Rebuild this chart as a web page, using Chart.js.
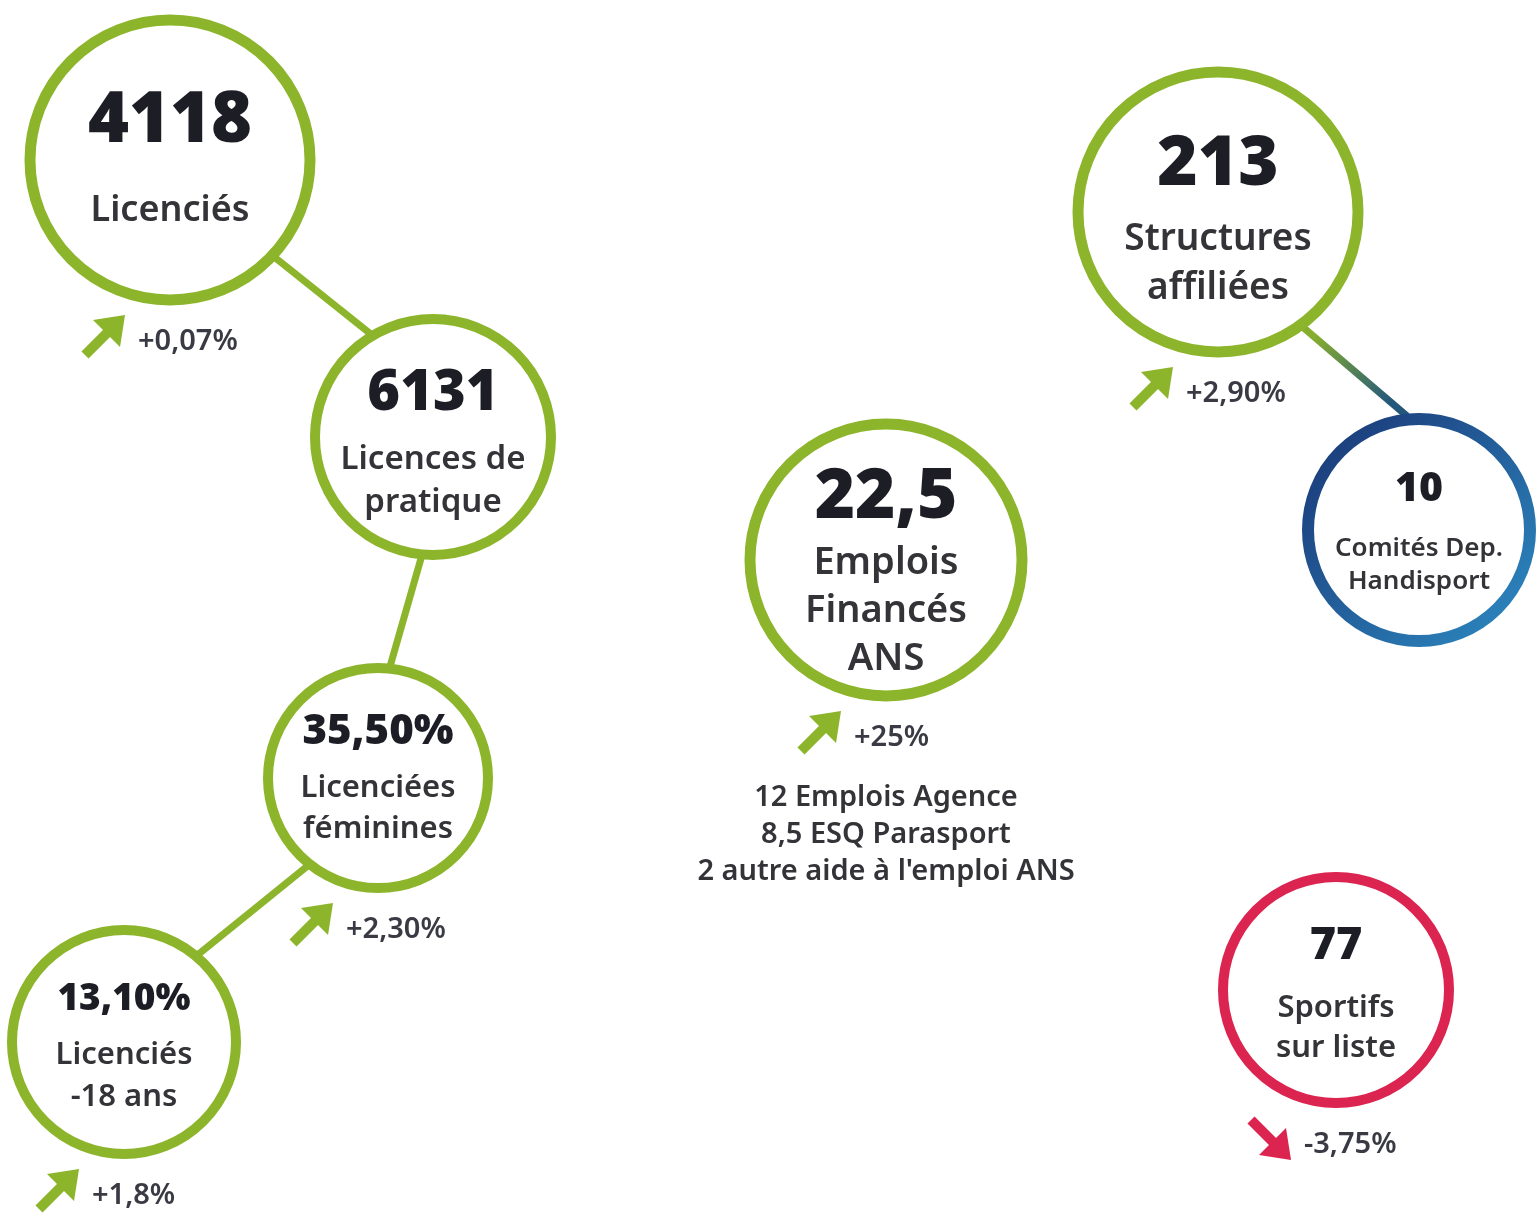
<!DOCTYPE html>
<html>
<head>
<meta charset="utf-8">
<script src="https://cdn.jsdelivr.net/npm/chart.js@4.4.1/dist/chart.umd.min.js"></script>
<style>
  html, body { margin: 0; padding: 0; background: #fff; }
  canvas { display: block; }
</style>
</head>
<body>
<canvas id="infoChart" width="1537" height="1217"></canvas>
<script>
// Key figures shown in the circles
const figures = ['4118', '6131', '35,50%', '13,10%', '22,5', '213', '10', '77'];
const captions = [
  ['Licenciés'],
  ['Licences de', 'pratique'],
  ['Licenciées', 'féminines'],
  ['Licenciés', '-18 ans'],
  ['Emplois', 'Financés', 'ANS'],
  ['Structures', 'affiliées'],
  ['Comités Dep.', 'Handisport'],
  ['Sportifs', 'sur liste']
];
const trends = ['+0,07%', '', '+2,30%', '+1,8%', '+25%', '+2,90%', '', '-3,75%'];
const jobsDetail = ['12 Emplois Agence', '8,5 ESQ Parasport', "2 autre aide à l'emploi ANS"];

// Circle centres on a 0..1537 x 0..1217 grid, and radius
const centerX = [170, 433, 378, 124, 886, 1218, 1419, 1336];
const centerY = [160, 437, 778, 1042, 560, 212, 530, 990];
const radius = [140, 118, 110, 112, 136, 140, 111, 113];

// Connectors between circles: [from circle, to circle] and end points
const links = [[0, 1], [1, 2], [2, 3], [5, 6]];
const linkX = [[268, 377], [424, 389], [310, 195], [1298, 1407]];
const linkY = [[252, 339], [548, 670], [864, 957], [323, 416]];

// Styles
const GREEN = '#8cb52b';
const RED = '#dc2450';
const ringColor = [GREEN, GREEN, GREEN, GREEN, GREEN, GREEN, 'blue', RED];
const figureSize = [70, 56, 42, 37, 69, 69, 41, 45];
const figureDy = [-38, -43, -46, -43, -62, -47, -41, -44];
const captionSize = [36, 33, 31, 31, 38, 37, 26, 31];
const captionDy = [51, 23, 10, 13, 3, 27, 19, 18];
const captionGap = [44, 43, 41, 42, 48, 49, 33, 40];
const FONT = "'Noto Sans', sans-serif";

function plainColor(i) {
  return ringColor[i] === 'blue' ? '#2a6aa8' : ringColor[i];
}

function ringStroke(context) {
  const i = context.dataIndex;
  if (ringColor[i] !== 'blue') return ringColor[i];
  const chart = context.chart;
  if (!chart.chartArea) return '#2a6aa8';
  const x = chart.scales.x.getPixelForValue(centerX[i]);
  const y = chart.scales.y.getPixelForValue(centerY[i]);
  const r = radius[i];
  const g = chart.ctx.createLinearGradient(x - r, y - r, x + r, y + r);
  g.addColorStop(0, '#1a3675');
  g.addColorStop(1, '#2d8ac2');
  return g;
}

// Link lines, one dataset per link
const linkSets = links.map(([a, b], k) => ({
  type: 'line',
  data: [{ x: linkX[k][0], y: linkY[k][0] }, { x: linkX[k][1], y: linkY[k][1] }],
  borderWidth: 7,
  pointRadius: 0,
  order: 2,
  clip: false,
  borderColor: plainColor(a),
  segment: {
    borderColor: ctx => {
      if (ringColor[b] !== 'blue') return plainColor(a);
      const g = ctx.chart.ctx.createLinearGradient(ctx.p0.x, ctx.p0.y, ctx.p1.x, ctx.p1.y);
      g.addColorStop(0.15, '#86ad2e');
      g.addColorStop(0.85, '#24587a');
      return g;
    }
  }
}));

function drawArrow(c, x, y, color, down) {
  c.save();
  c.translate(x, y);
  if (down) c.scale(1, -1);
  c.fillStyle = color;
  c.strokeStyle = color;
  c.lineWidth = 10;
  c.lineCap = 'butt';
  c.beginPath();
  c.moveTo(-19, 19);
  c.lineTo(4, -4);
  c.stroke();
  c.beginPath();
  c.moveTo(21, -21);
  c.lineTo(16, 11);
  c.lineTo(-11, -16);
  c.closePath();
  c.fill();
  c.restore();
}

const labelPlugin = {
  id: 'labels',
  afterDatasetsDraw(chart) {
    const c = chart.ctx;
    const sx = chart.scales.x, sy = chart.scales.y;
    c.save();
    c.textAlign = 'center';
    c.textBaseline = 'middle';
    figures.forEach((fig, i) => {
      const x = sx.getPixelForValue(centerX[i]);
      const y = sy.getPixelForValue(centerY[i]);
      c.fillStyle = '#1d1d26';
      c.font = `900 ${figureSize[i]}px ${FONT}`;
      c.fillText(fig, x, y + figureDy[i]);
      c.fillStyle = '#333338';
      c.font = `600 ${captionSize[i]}px ${FONT}`;
      captions[i].forEach((line, k) => {
        c.fillText(line, x, y + captionDy[i] + k * captionGap[i]);
      });
      if (trends[i]) {
        const down = trends[i].startsWith('-');
        const ax = x - 66, ay = y + radius[i] + 36;
        drawArrow(c, ax, ay, down ? RED : GREEN, down);
        c.textAlign = 'left';
        c.fillStyle = '#3a3a44';
        c.font = `600 29px ${FONT}`;
        c.fillText(trends[i], ax + 34, ay + 6);
        c.textAlign = 'center';
      }
    });
    // detail under the jobs circle
    const jx = sx.getPixelForValue(centerX[4]);
    const jy = sy.getPixelForValue(centerY[4]) + radius[4] + 102;
    c.fillStyle = '#333338';
    c.font = `600 29px ${FONT}`;
    jobsDetail.forEach((line, k) => c.fillText(line, jx, jy + k * 37));
    c.restore();
  }
};

new Chart(document.getElementById('infoChart'), {
  type: 'bubble',
  data: {
    datasets: [
      {
        data: figures.map((f, i) => ({ x: centerX[i], y: centerY[i], r: radius[i] })),
        backgroundColor: '#ffffff',
        borderColor: ringStroke,
        borderWidth: [11, 10, 10, 10, 11, 11, 12, 10],
        clip: false,
        order: 1
      },
      ...linkSets
    ]
  },
  options: {
    responsive: false,
    animation: false,
    events: [],
    layout: { padding: 0, autoPadding: false },
    plugins: { legend: { display: false }, tooltip: { enabled: false } },
    scales: {
      x: { type: 'linear', min: 0, max: 1537, display: false },
      y: { type: 'linear', min: 0, max: 1217, reverse: true, display: false }
    }
  },
  plugins: [labelPlugin]
});
</script>
</body>
</html>
